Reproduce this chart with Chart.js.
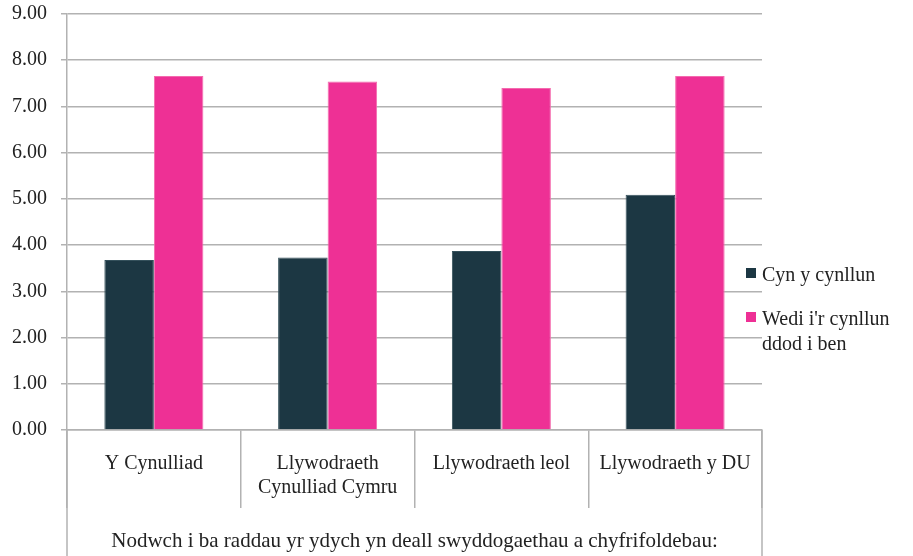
<!DOCTYPE html>
<html>
<head>
<meta charset="utf-8">
<style>
  html, body { margin: 0; padding: 0; background: #fff; }
  #graff { display: block; }
</style>
</head>
<body>
<canvas id="graff" width="913" height="556"></canvas>
<script src="https://cdn.jsdelivr.net/npm/chart.js@4/dist/chart.umd.min.js"></script>
<script>
// data
const categories = ["Y Cynulliad", ["Llywodraeth", "Cynulliad Cymru"], "Llywodraeth leol", "Llywodraeth y DU"];
const seriesLabels = [["Cyn y cynllun"], ["Wedi i'r cynllun", "ddod i ben"]];
const cynYCynllun = [3.68, 3.73, 3.87, 5.09];
const wediIrCynllun = [7.66, 7.54, 7.40, 7.66];
const yTicks = [0, 1, 2, 3, 4, 5, 6, 7, 8, 9];
const axisTitle = "Nodwch i ba raddau yr ydych yn deall swyddogaethau a chyfrifoldebau:";

const colours = ["#1c3743", "#ee3095"];
const edges = ["#34505b", "#f46aae"];
const grey = "#b2b2b2";
const textColour = "#222";
const fontFamily = "'Liberation Serif', serif";

// legend on the right, drawn by hand because of the two-line label
const ochrLegend = {
  id: "ochrLegend",
  afterDraw(chart) {
    const { ctx, chartArea } = chart;
    const x = chartArea.right - 16;
    const starts = [276, 320];
    ctx.save();
    ctx.font = "20px " + fontFamily;
    ctx.textBaseline = "middle";
    seriesLabels.forEach((lines, i) => {
      const y = starts[i];
      ctx.fillStyle = colours[i];
      ctx.fillRect(x, y - 8, 10, 10);
      ctx.fillStyle = textColour;
      lines.forEach((line, j) => ctx.fillText(line, x + 16, y + j * 25));
    });
    ctx.restore();
  }
};

// outer frame lines under the x axis
const ffram = {
  id: "ffram",
  afterDraw(chart) {
    const { ctx, chartArea } = chart;
    ctx.save();
    ctx.strokeStyle = grey;
    ctx.lineWidth = 1.5;
    [chartArea.left, chartArea.right].forEach((x) => {
      ctx.beginPath();
      ctx.moveTo(x, chartArea.bottom);
      ctx.lineTo(x, chart.height);
      ctx.stroke();
    });
    ctx.restore();
  }
};

new Chart(document.getElementById("graff"), {
  type: "bar",
  data: {
    labels: categories,
    datasets: [
      {
        label: seriesLabels[0].join(" "),
        data: cynYCynllun,
        backgroundColor: colours[0],
        borderColor: edges[0],
        borderWidth: 1,
      },
      {
        label: seriesLabels[1].join(" "),
        data: wediIrCynllun,
        backgroundColor: colours[1],
        borderColor: edges[1],
        borderWidth: 1,
      },
    ],
  },
  options: {
    responsive: false,
    animation: false,
    devicePixelRatio: 1,
    layout: { padding: { top: 14, right: 151, left: 0, bottom: 0 } },
    datasets: { bar: { categoryPercentage: 0.57, barPercentage: 1 } },
    plugins: {
      legend: { display: false },
      tooltip: { enabled: false },
    },
    scales: {
      x: {
        grid: {
          offset: true,
          drawOnChartArea: false,
          tickLength: 78,
          color: grey,
          lineWidth: 1.5,
        },
        border: { display: true, color: grey, width: 1.5 },
        ticks: {
          color: textColour,
          font: { family: fontFamily, size: 20, lineHeight: 1.23 },
          padding: -57,
          maxRotation: 0,
          autoSkip: false,
        },
        title: {
          display: true,
          text: axisTitle,
          color: textColour,
          font: { family: fontFamily, size: 21 },
          padding: { top: 0, bottom: 2 },
        },
        afterFit(scale) {
          scale.height = 126;
          scale.paddingLeft = 0;
          scale.paddingRight = 0;
        },
      },
      y: {
        min: 0,
        max: 9,
        afterBuildTicks(scale) { scale.ticks = yTicks.map((v) => ({ value: v })); },
        grid: { color: grey, lineWidth: 1.5, tickLength: 6 },
        border: { display: true, color: grey, width: 1.5 },
        ticks: {
          color: textColour,
          font: { family: fontFamily, size: 20 },
          padding: 14,
          callback: (v) => Number(v).toFixed(2),
        },
        afterFit(scale) {
          scale.width = 67;
          scale.paddingTop = 0;
          scale.paddingBottom = 0;
        },
      },
    },
  },
  plugins: [ochrLegend, ffram],
});
</script>
</body>
</html>
